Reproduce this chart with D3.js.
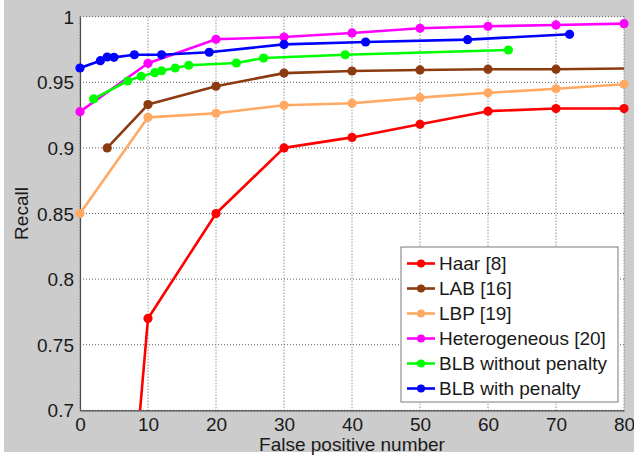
<!DOCTYPE html>
<html>
<head>
<meta charset="utf-8">
<script src="https://cdn.jsdelivr.net/npm/d3@7"></script>
<style>
    body { margin: 0; background: #ffffff; }
    svg text { font-family: "Liberation Sans", Arial, sans-serif; fill: #1a1a1a; }
</style>
</head>
<body>
<svg id="chart" width="634" height="459"></svg>
<script>
// Values.
var xTicks = [0, 10, 20, 30, 40, 50, 60, 70, 80];
var yTicks = [0.7, 0.75, 0.8, 0.85, 0.9, 0.95, 1];
var yTickLabels = ["0.7", "0.75", "0.8", "0.85", "0.9", "0.95", "1"];

var seriesNames = ["Haar [8]", "LAB [16]", "LBP [19]", "Heterogeneous [20]", "BLB without penalty", "BLB with penalty"];
var seriesColors = ["#ff0000", "#8c3a10", "#ffa962", "#ff00ff", "#00ff00", "#0000ff"];

// Points outside the axis range get clipped, as in the original figure.
var haarX = [8, 10, 20, 30, 40, 50, 60, 70, 80];
var haarY = [0.65, 0.77, 0.85, 0.9, 0.908, 0.918, 0.928, 0.930, 0.930];
var labX = [4, 10, 20, 30, 40, 50, 60, 70, 90];
var labY = [0.9, 0.933, 0.947, 0.957, 0.9586, 0.9594, 0.960, 0.960, 0.961];
var lbpX = [0, 10, 20, 30, 40, 50, 60, 70, 80];
var lbpY = [0.85, 0.9233, 0.9264, 0.9325, 0.934, 0.9383, 0.942, 0.9451, 0.9485];
var hetX = [0, 10, 20, 30, 40, 50, 60, 70, 80];
var hetY = [0.9276, 0.9645, 0.9828, 0.9845, 0.9876, 0.9912, 0.9927, 0.9937, 0.9947];
var blbNoPenX = [2, 7, 9, 11, 12, 14, 16, 23, 27, 39, 63];
var blbNoPenY = [0.9373, 0.951, 0.9546, 0.9573, 0.9588, 0.9609, 0.963, 0.9647, 0.9685, 0.971, 0.9746];
var blbPenX = [0, 3, 4, 5, 8, 12, 19, 30, 42, 57, 72];
var blbPenY = [0.9609, 0.9665, 0.9693, 0.969, 0.971, 0.971, 0.9729, 0.9789, 0.9807, 0.9825, 0.9866];

var seriesX = [haarX, labX, lbpX, hetX, blbNoPenX, blbPenX];
var seriesY = [haarY, labY, lbpY, hetY, blbNoPenY, blbPenY];

class ChartView {
    constructor(selector) {
        var self = this;
        self.svg = d3.select(selector);
        self.width = 634;
        self.height = 459;
        self.left = 80;
        self.right = 624;
        self.top = 16.7;
        self.bottom = 410.3;
        self.fontSize = 19;
    }

    createScales() {
        var self = this;
        self.xScale = d3.scaleLinear()
            .domain([0, 80])
            .range([self.left, self.right]);
        self.yScale = d3.scaleLinear()
            .domain([0.7, 1])
            .range([self.bottom, self.top]);
    }

    createBackground() {
        var self = this;
        // White page with the grey figure panel on top of it.
        self.svg.append("rect")
            .attr("x", 0).attr("y", 0)
            .attr("width", self.width).attr("height", self.height)
            .attr("fill", "#ffffff");
        self.svg.append("rect")
            .attr("x", 4).attr("y", 0)
            .attr("width", self.width - 4).attr("height", 452)
            .attr("fill", "#cccccc");
        self.svg.append("rect")
            .attr("x", self.left).attr("y", self.top)
            .attr("width", self.right - self.left)
            .attr("height", self.bottom - self.top)
            .attr("fill", "#ffffff");
        self.svg.append("clipPath")
            .attr("id", "plot-clip")
            .append("rect")
            .attr("x", self.left).attr("y", self.top)
            .attr("width", self.right - self.left)
            .attr("height", self.bottom - self.top);
    }

    createGrid() {
        var self = this;
        var grid = self.svg.append("g");
        grid.selectAll("line.vgrid")
            .data(xTicks)
            .enter()
            .append("line")
            .attr("class", "vgrid")
            .attr("x1", function (d) { return self.xScale(d); })
            .attr("x2", function (d) { return self.xScale(d); })
            .attr("y1", self.top)
            .attr("y2", self.bottom);
        grid.selectAll("line.hgrid")
            .data(yTicks)
            .enter()
            .append("line")
            .attr("class", "hgrid")
            .attr("x1", self.left)
            .attr("x2", self.right)
            .attr("y1", function (d) { return self.yScale(d); })
            .attr("y2", function (d) { return self.yScale(d); });
        grid.selectAll("line")
            .attr("stroke", "#606060")
            .attr("stroke-width", 1)
            .attr("stroke-dasharray", "1,2");
    }

    createAxes() {
        var self = this;
        var xAxis = d3.axisBottom(self.xScale)
            .tickValues(xTicks)
            .tickSize(0)
            .tickPadding(7);
        var yAxis = d3.axisLeft(self.yScale)
            .tickValues(yTicks)
            .tickFormat(function (d, i) { return yTickLabels[i]; })
            .tickSize(0)
            .tickPadding(6);
        var gx = self.svg.append("g")
            .attr("transform", "translate(0," + self.bottom + ")")
            .call(xAxis);
        var gy = self.svg.append("g")
            .attr("transform", "translate(" + self.left + ",0)")
            .call(yAxis);
        [gx, gy].forEach(function (g) {
            g.select(".domain").attr("stroke", "#4d4d4d").attr("stroke-width", 1.2);
            g.selectAll("text")
                .attr("font-size", self.fontSize)
                .attr("font-family", "Liberation Sans, Arial, sans-serif")
                .attr("fill", "#1a1a1a");
        });
        gy.selectAll("text").attr("dy", "0.35em");

        self.svg.append("text")
            .attr("x", (self.left + self.right) / 2)
            .attr("y", 451)
            .attr("text-anchor", "middle")
            .attr("font-size", self.fontSize)
            .text("False positive number");
        self.svg.append("text")
            .attr("transform", "translate(28," + ((self.top + self.bottom) / 2) + ") rotate(-90)")
            .attr("text-anchor", "middle")
            .attr("font-size", self.fontSize)
            .text("Recall");
    }

    createSeries() {
        var self = this;
        var line = d3.line()
            .x(function (d) { return self.xScale(d.x); })
            .y(function (d) { return self.yScale(d.y); });
        var seriesData = seriesNames.map(function (name, i) {
            return {
                name: name,
                color: seriesColors[i],
                points: seriesX[i].map(function (x, j) {
                    return {x: x, y: seriesY[i][j]};
                })
            };
        });
        var groups = self.svg.append("g")
            .selectAll("g")
            .data(seriesData)
            .enter()
            .append("g");
        groups.append("path")
            .attr("clip-path", "url(#plot-clip)")
            .attr("d", function (d) { return line(d.points); })
            .attr("fill", "none")
            .attr("stroke", function (d) { return d.color; })
            .attr("stroke-width", 2.6)
            .attr("stroke-linejoin", "round");
        // Markers are only drawn for points that fall inside the axes.
        groups.selectAll("circle")
            .data(function (d) {
                return d.points
                    .filter(function (p) { return p.x >= 0 && p.x <= 80 && p.y >= 0.7 && p.y <= 1; })
                    .map(function (p) { return {x: p.x, y: p.y, color: d.color}; });
            })
            .enter()
            .append("circle")
            .attr("cx", function (d) { return self.xScale(d.x); })
            .attr("cy", function (d) { return self.yScale(d.y); })
            .attr("r", 4.6)
            .attr("fill", function (d) { return d.color; });
    }

    createLegend() {
        var self = this;
        var legend = self.svg.append("g");
        legend.append("rect")
            .attr("x", 401).attr("y", 247)
            .attr("width", 217).attr("height", 155)
            .attr("fill", "#ffffff")
            .attr("stroke", "#7a7a7a")
            .attr("stroke-width", 1);
        var rows = legend.selectAll("g")
            .data(seriesNames)
            .enter()
            .append("g")
            .attr("transform", function (d, i) { return "translate(0," + (263.5 + i * 25) + ")"; });
        rows.append("line")
            .attr("x1", 407).attr("x2", 435)
            .attr("y1", 0).attr("y2", 0)
            .attr("stroke", function (d, i) { return seriesColors[i]; })
            .attr("stroke-width", 2.6);
        rows.append("circle")
            .attr("cx", 421).attr("cy", 0)
            .attr("r", 4)
            .attr("fill", function (d, i) { return seriesColors[i]; });
        rows.append("text")
            .attr("x", 439)
            .attr("y", 0)
            .attr("dy", "0.35em")
            .attr("font-size", self.fontSize)
            .text(function (d) { return d; });
    }

    draw() {
        var self = this;
        self.createScales();
        self.createBackground();
        self.createGrid();
        self.createAxes();
        self.createSeries();
        self.createLegend();
    }
}

var chart = new ChartView("#chart");
chart.draw();
</script>
</body>
</html>
